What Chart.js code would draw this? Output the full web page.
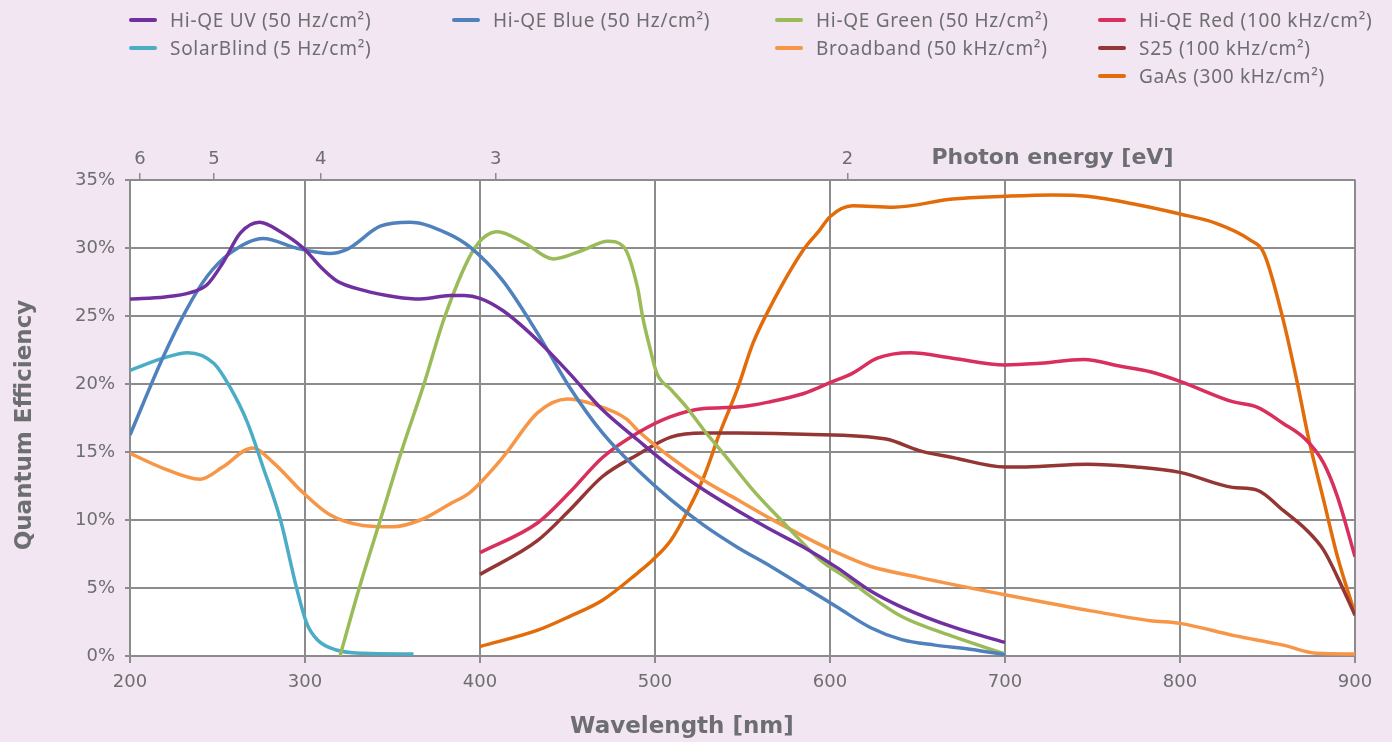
<!DOCTYPE html>
<html>
<head>
<meta charset="utf-8">
<script src="https://cdn.jsdelivr.net/npm/chart.js@4.4.1/dist/chart.umd.min.js"></script>
<style>
  body { margin: 0; background: #f2e6f2; }
  #wrap { position: relative; width: 1392px; height: 742px; }
  #legend { position: absolute; left: 129px; top: 6px; display: grid;
    grid-template-columns: repeat(4, 323px); grid-auto-rows: 28px;
    font-family: "Noto Sans", sans-serif; font-size: 19px; letter-spacing: 0.7px; color: #6d6e71; }
  .item { display: flex; align-items: center; white-space: nowrap; }
  .swatch { width: 28px; height: 4px; border-radius: 2px; margin-right: 13px; }
</style>
</head>
<body>
<div id="wrap">
  <canvas id="qeChart" width="1392" height="742"></canvas>
  <div id="legend"></div>
</div>
<script>
// Quantum efficiency curves, wavelength in nm, QE in %
const uvNm = [200, 220, 234, 244, 253, 263, 274, 286, 299, 309, 318, 333, 352, 366, 383, 391, 400, 413, 433, 451, 470, 490, 509, 528, 547, 566, 585, 604, 623, 641, 671, 700];
const uvQE = [26.25, 26.4, 26.7, 27.3, 28.9, 31.1, 31.9, 31.2, 30.0, 28.6, 27.6, 26.9, 26.4, 26.25, 26.5, 26.5, 26.3, 25.4, 23.2, 20.8, 18.1, 15.9, 13.9, 12.2, 10.7, 9.3, 8.0, 6.5, 4.8, 3.6, 2.1, 1.0];

const blueNm = [200, 219, 232, 244, 257, 276, 295, 314, 324, 343, 360, 381, 394, 413, 433, 451, 470, 490, 509, 528, 547, 566, 585, 604, 623, 641, 660, 680, 700];
const blueQE = [16.25, 22.0, 25.4, 27.9, 29.6, 30.7, 30.0, 29.6, 29.9, 31.6, 31.9, 31.1, 30.1, 27.6, 23.7, 19.8, 16.4, 13.7, 11.5, 9.6, 8.0, 6.6, 5.1, 3.6, 2.1, 1.2, 0.8, 0.5, 0.1];

const greenNm = [320, 331, 343, 355, 368, 380, 397, 410, 425, 442, 458, 473, 482, 490, 493, 497, 501, 509, 518, 528, 539, 556, 575, 594, 611, 623, 641, 671, 700];
const greenQE = [0, 5, 10, 15, 20, 25, 30, 31.2, 30.4, 29.2, 29.8, 30.5, 30.1, 27.1, 24.9, 22.7, 20.8, 19.6, 18.3, 16.6, 14.9, 12.2, 9.6, 7.1, 5.6, 4.4, 2.9, 1.4, 0.15];

const redNm = [400, 433, 451, 470, 490, 509, 528, 547, 566, 585, 600, 613, 627, 646, 670, 700, 718, 745, 766, 783, 800, 830, 844, 859, 872, 882, 890, 900];
const redQE = [7.6, 9.8, 12.0, 14.6, 16.4, 17.6, 18.2, 18.3, 18.7, 19.3, 20.1, 20.8, 21.9, 22.3, 21.9, 21.4, 21.5, 21.8, 21.3, 20.9, 20.2, 18.7, 18.3, 17.1, 15.9, 14.2, 11.7, 7.3];

const solarNm = [200, 219, 233, 248, 257, 267, 276, 286, 295, 301, 307, 318, 333, 362];
const solarQE = [21.0, 21.9, 22.3, 21.5, 19.8, 17.2, 13.9, 10.0, 5.1, 2.4, 1.2, 0.44, 0.2, 0.15];

const broadNm = [200, 219, 240, 253, 270, 282, 299, 314, 333, 350, 366, 383, 394, 413, 433, 450, 465, 484, 490, 509, 528, 547, 566, 585, 604, 623, 650, 700, 750, 783, 800, 831, 859, 878, 900];
const broadQE = [14.9, 13.8, 13.0, 13.9, 15.3, 14.2, 12.0, 10.4, 9.6, 9.5, 10.0, 11.2, 12.0, 14.6, 17.9, 18.9, 18.5, 17.4, 16.6, 14.6, 12.9, 11.5, 10.1, 8.8, 7.6, 6.6, 5.8, 4.5, 3.3, 2.6, 2.4, 1.5, 0.8, 0.2, 0.15];

const s25Nm = [400, 433, 451, 470, 490, 509, 528, 547, 585, 632, 651, 670, 700, 712, 747, 775, 800, 830, 844, 859, 872, 882, 890, 900];
const s25QE = [6.0, 8.5, 10.7, 13.2, 14.8, 16.1, 16.4, 16.4, 16.3, 15.95, 15.1, 14.6, 13.9, 13.9, 14.1, 13.9, 13.5, 12.4, 12.2, 10.7, 9.3, 7.8, 5.8, 3.0];

const gaasNm = [400, 433, 451, 470, 490, 499, 509, 518, 528, 537, 547, 556, 566, 585, 594, 600, 613, 636, 670, 700, 727, 747, 775, 800, 821, 840, 848, 859, 867, 874, 882, 890, 900];
const gaasQE = [0.7, 1.9, 2.9, 4.1, 6.1, 7.1, 8.5, 10.5, 13.2, 16.4, 19.6, 23.0, 25.7, 29.9, 31.3, 32.3, 33.1, 33.0, 33.6, 33.8, 33.9, 33.8, 33.2, 32.5, 31.8, 30.6, 29.6, 24.7, 20.1, 15.7, 11.5, 7.3, 3.1];

// Photon energy axis (eV) and where its ticks sit on the wavelength axis
const energyLabels = ['6', '5', '4', '3', '2'];
const energyTickNm = [205.7, 248, 309, 409, 610];

const textColor = '#6d6e71';
const gridColor = '#8c8c8c';

function pts(nm, qe) {
    return nm.map((x, i) => ({ x: x, y: qe[i] }));
}

const series = [
    { label: 'Hi-QE UV (50 Hz/cm²)', nm: uvNm, qe: uvQE, color: '#7030a0', slot: [1, 1] },
    { label: 'Hi-QE Blue (50 Hz/cm²)', nm: blueNm, qe: blueQE, color: '#4f81bd', slot: [1, 2] },
    { label: 'Hi-QE Green (50 Hz/cm²)', nm: greenNm, qe: greenQE, color: '#9bbb59', slot: [1, 3] },
    { label: 'Hi-QE Red (100 kHz/cm²)', nm: redNm, qe: redQE, color: '#d92f5c', slot: [1, 4] },
    { label: 'SolarBlind (5 Hz/cm²)', nm: solarNm, qe: solarQE, color: '#4bacc6', slot: [2, 1] },
    { label: 'Broadband (50 kHz/cm²)', nm: broadNm, qe: broadQE, color: '#f79646', slot: [2, 3] },
    { label: 'S25 (100 kHz/cm²)', nm: s25Nm, qe: s25QE, color: '#943634', slot: [2, 4] },
    { label: 'GaAs (300 kHz/cm²)', nm: gaasNm, qe: gaasQE, color: '#e36c0a', slot: [3, 4] }
];

// white plot area + the free-placed axis titles
const decor = {
    id: 'decor',
    beforeDraw(chart) {
        const a = chart.chartArea;
        const ctx = chart.ctx;
        ctx.save();
        ctx.fillStyle = '#ffffff';
        ctx.fillRect(a.left, a.top, a.right - a.left, a.bottom - a.top);
        ctx.restore();
    },
    afterDraw(chart) {
        const a = chart.chartArea;
        const w = a.right - a.left;
        const ctx = chart.ctx;
        ctx.save();
        ctx.fillStyle = textColor;
        ctx.font = 'bold 23px "DejaVu Sans", sans-serif';
        ctx.textAlign = 'center';
        ctx.textBaseline = 'middle';
        ctx.fillText('Wavelength [nm]', a.left + w * 0.4506, 727);
        ctx.font = 'bold 22px "DejaVu Sans", sans-serif';
        ctx.fillText('Photon energy [eV]', a.left + w * 0.753, 158);
        ctx.font = 'bold 23px "DejaVu Sans", sans-serif';
        ctx.translate(25, (a.top + a.bottom) / 2 + 7);
        ctx.rotate(-Math.PI / 2);
        ctx.fillText('Quantum Efficiency', 0, 0);
        ctx.restore();
    }
};

const tickFont = { family: '"DejaVu Sans", sans-serif', size: 18 };

const chart = new Chart(document.getElementById('qeChart'), {
    type: 'line',
    data: {
        datasets: series.map(s => ({
            label: s.label,
            data: pts(s.nm, s.qe),
            borderColor: s.color,
            backgroundColor: s.color,
            borderWidth: 3.5,
            pointRadius: 0,
            cubicInterpolationMode: 'monotone',
            fill: false
        }))
    },
    options: {
        responsive: false,
        animation: false,
        layout: { padding: { left: 0, right: 37, top: 0, bottom: 0 } },
        plugins: { legend: { display: false }, tooltip: { enabled: false } },
        scales: {
            x: {
                type: 'linear', position: 'bottom', min: 200, max: 900,
                ticks: { stepSize: 100, color: textColor, font: tickFont, padding: 9, maxRotation: 0 },
                grid: { color: gridColor, lineWidth: 2, tickLength: 7 },
                border: { color: gridColor, width: 2 },
                afterFit: s => { s.height = 86; }
            },
            x2: {
                type: 'linear', position: 'top', min: 200, max: 900,
                afterBuildTicks: s => { s.ticks = energyTickNm.map(v => ({ value: v })); },
                ticks: { color: textColor, font: tickFont, padding: 3,
                    autoSkip: false, maxRotation: 0, callback: (v, i) => energyLabels[i] },
                grid: { drawOnChartArea: false, color: gridColor, lineWidth: 1.5, tickLength: 7 },
                border: { color: gridColor, width: 2 },
                afterFit: s => { s.height = 180; }
            },
            y: {
                min: 0, max: 35,
                ticks: { stepSize: 5, color: textColor, font: tickFont, padding: 10, callback: v => v + '%' },
                grid: { color: gridColor, lineWidth: 2, tickLength: 5 },
                border: { color: gridColor, width: 2 },
                afterFit: s => { s.width = 130; }
            }
        }
    },
    plugins: [decor]
});

// legend laid out in the same 4-column grid as the original
const legendBox = document.getElementById('legend');
series.forEach(s => {
    const div = document.createElement('div');
    div.className = 'item';
    div.style.gridRow = s.slot[0];
    div.style.gridColumn = s.slot[1];
    div.innerHTML = `<span class="swatch" style="background:${s.color}"></span><span>${s.label}</span>`;
    legendBox.appendChild(div);
});
</script>
</body>
</html>
